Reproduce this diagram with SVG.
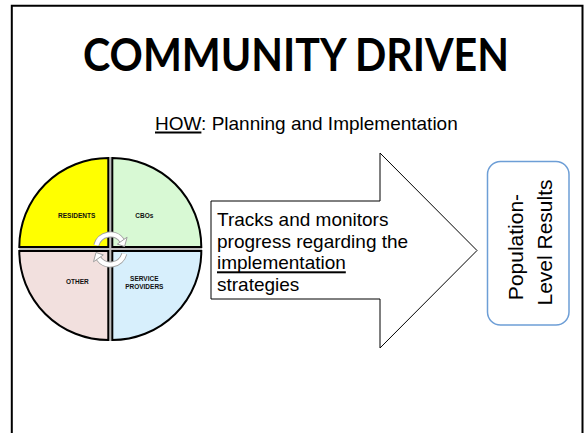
<svg xmlns="http://www.w3.org/2000/svg" width="586" height="433" viewBox="0 0 586 433">
<style>
.body{font-family:"Liberation Sans",Arial,sans-serif;font-size:19px;fill:#000}
.lab{font-family:"Liberation Sans",Arial,sans-serif;font-size:6.5px;font-weight:bold;fill:#111;text-anchor:middle}
.quad{stroke:#000;stroke-width:2}
.pop{font-family:"Liberation Sans",Arial,sans-serif;font-size:21px;fill:#000;text-anchor:middle}
</style>
<rect width="586" height="433" fill="#fff"/>
<path d="M11.8 445 V5.8 H582.5 V445" fill="none" stroke="#000" stroke-width="2"/>
<g id="title">
<text x="296" y="71" font-family="Lato,'Open Sans',sans-serif" font-weight="bold" font-size="45" text-anchor="middle" textLength="426" lengthAdjust="spacingAndGlyphs">COMMUNITY DRIVEN</text>
</g>
<g id="subtitle">
<text class="body" x="155" y="130">HOW: Planning and Implementation</text>
<rect x="155" y="131.5" width="46.4" height="2" fill="#000"/>
</g>
<g id="pie">
<line x1="110.3" y1="157" x2="110.3" y2="341" stroke="#bdbdbd" stroke-width="2"/>
<line x1="19" y1="249" x2="202" y2="249" stroke="#bdbdbd" stroke-width="2"/>
<g id="residents">
<path class="quad" d="M108.3 247 V158 A89 89 0 0 0 19.3 247 Z" fill="#ffff00"/>
<text class="lab" x="76.7" y="217.6">RESIDENTS</text>
</g>
<g id="cbos">
<path class="quad" d="M112.3 247 V158 A89 89 0 0 1 201.3 247 Z" fill="#d8f9d4"/>
<text class="lab" x="144.3" y="217.6">CBOs</text>
</g>
<g id="other">
<path class="quad" d="M108.3 251 V340 A89 89 0 0 1 19.3 251 Z" fill="#f2e0de"/>
<text class="lab" x="77.3" y="284.3">OTHER</text>
</g>
<g id="service-providers">
<path class="quad" d="M112.3 251 V340 A89 89 0 0 0 201.3 251 Z" fill="#d7effc"/>
<text class="lab" x="144.3" y="281">SERVICE</text>
<text class="lab" x="144.3" y="289">PROVIDERS</text>
</g>
<g id="cycle-icon">
<g id="cycle-half">
<path d="M96.3 245.2 A14.5 14.5 0 0 1 122.18 240.68" fill="none" stroke="#a0a0a0" stroke-width="6"/>
<path d="M96.3 245.2 A14.5 14.5 0 0 1 122.18 240.68" fill="none" stroke="#fff" stroke-width="4.2"/>
<polygon points="127.1,237.2 117.3,244.1 124.6,246.5" fill="#fff" stroke="#a0a0a0" stroke-width="1" stroke-linejoin="round"/>
</g>
<use href="#cycle-half" transform="rotate(180 110.3 249.5)"/>
</g>
</g>
<g id="arrow">
<polygon points="211,201 380,201 380,153 477,250.5 380,348 380,299 211,299" fill="#fff" stroke="#000" stroke-width="1"/>
<text class="body" x="217" y="226">Tracks and monitors</text>
<text class="body" x="217" y="247.5">progress regarding the</text>
<text class="body" x="217" y="269">implementation</text>
<rect x="217" y="271.3" width="128.8" height="2" fill="#000"/>
<text class="body" x="217" y="290.5">strategies</text>
</g>
<g id="results">
<rect x="487.5" y="161.5" width="81.5" height="163.5" rx="13" ry="13" fill="#fff" stroke="#6d9ed6" stroke-width="1.5"/>
<text class="pop" transform="translate(522.5 247) rotate(-90)">Population-</text>
<text class="pop" transform="translate(551.5 242.5) rotate(-90)">Level Results</text>
</g>
<g id="connectors"/>
</svg>
